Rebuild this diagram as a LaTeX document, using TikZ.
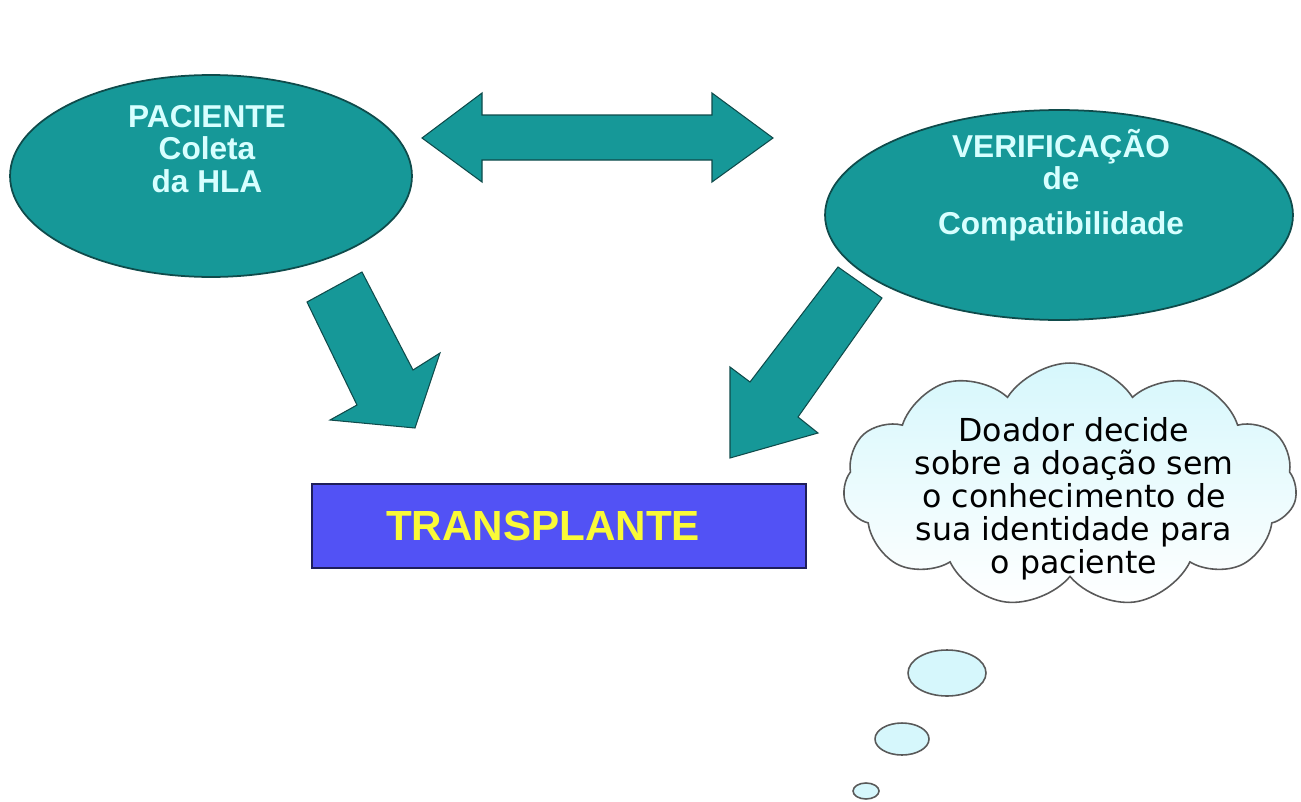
\documentclass[tikz,border=0pt]{standalone}
\usepackage{fontspec}
\setmainfont{Liberation Sans}
\newfontfamily\nuvemfont{DejaVu Sans}
\usetikzlibrary{positioning, shapes.geometric, shapes.symbols}

\definecolor{tealfill}{RGB}{22,152,152}
\definecolor{tealline}{RGB}{15,75,75}
\definecolor{boxblue}{RGB}{82,82,245}
\definecolor{boxline}{RGB}{30,30,90}
\definecolor{txtyellow}{RGB}{250,250,55}
\definecolor{txtcyan}{RGB}{215,255,255}
\definecolor{nuvemfill}{RGB}{214,247,252}

\tikzset{
  etapa/.style = {ellipse, draw=tealline, fill=tealfill, line width=1pt, inner sep=0pt},
  etapatxt/.style = {text=txtcyan, align=center, font=\fontsize{18}{18.5}\selectfont\bfseries},
  seta/.style = {draw=tealline, fill=tealfill, line width=0.6pt, line join=miter},
  bolha/.style = {ellipse, draw=black!65, fill=nuvemfill, line width=0.9pt, inner sep=0pt},
}

\begin{document}
\begin{tikzpicture}[x=0.02cm, y=-0.02cm]
    \useasboundingbox (0,0) rectangle (1301,801);

    % the two steps
    \node[etapa, minimum width=8.04cm, minimum height=4.04cm] at (211,176) (pac) {};
    \node[etapatxt] at (207,149) (pactxt) {PACIENTE\\Coleta\\da HLA};
    \node[etapa, minimum width=9.36cm, minimum height=4.2cm] at (1059,215) (ver) {};
    \node[etapatxt] at (1061,185) (vertxt) {VERIFICAÇÃO\\de\\[7pt]Compatibilidade};

    % block arrows
    \draw[seta] (422,138) -- (482,93) -- (482,115) -- (712,115) -- (712,93) -- (773,138)
        -- (712,182) -- (712,160) -- (482,160) -- (482,182) -- cycle;
    \draw[seta] (307,302) -- (362,272) -- (413,370) -- (440,353) -- (415,428)
        -- (330,420) -- (357,405) -- cycle;
    \draw[seta] (838,267) -- (882,298) -- (798,417) -- (818,433) -- (730,458)
        -- (730,367) -- (750,382) -- cycle;

    % result
    \node[draw=boxline, fill=boxblue, line width=0.8pt, minimum width=9.88cm, minimum height=1.68cm,
          text=txtyellow, font=\fontsize{24}{26}\selectfont\bfseries] at (559,526) (tx)
          {TRANSPLANTE\hspace*{0.64cm}};

    % thought cloud
    \node[cloud, cloud puffs=11, cloud puff arc=115, cloud ignores aspect, draw=black!65,
          line width=0.9pt, top color=nuvemfill, bottom color=white,
          minimum width=9.08cm, minimum height=4.88cm] at (1070,485) (nuvem) {};
    \node[align=center, font=\nuvemfont\fontsize{18}{18.8}\selectfont] at (1074,499) (nuvemtxt)
          {Doador decide\\sobre a doação sem\\o conhecimento de\\sua identidade para\\o paciente};
    \node[bolha, minimum width=1.56cm, minimum height=0.92cm] at (947,673) (b1) {};
    \node[bolha, minimum width=1.08cm, minimum height=0.64cm] at (902,739) (b2) {};
    \node[bolha, minimum width=0.52cm, minimum height=0.32cm] at (866,791) (b3) {};
\end{tikzpicture}
\end{document}
